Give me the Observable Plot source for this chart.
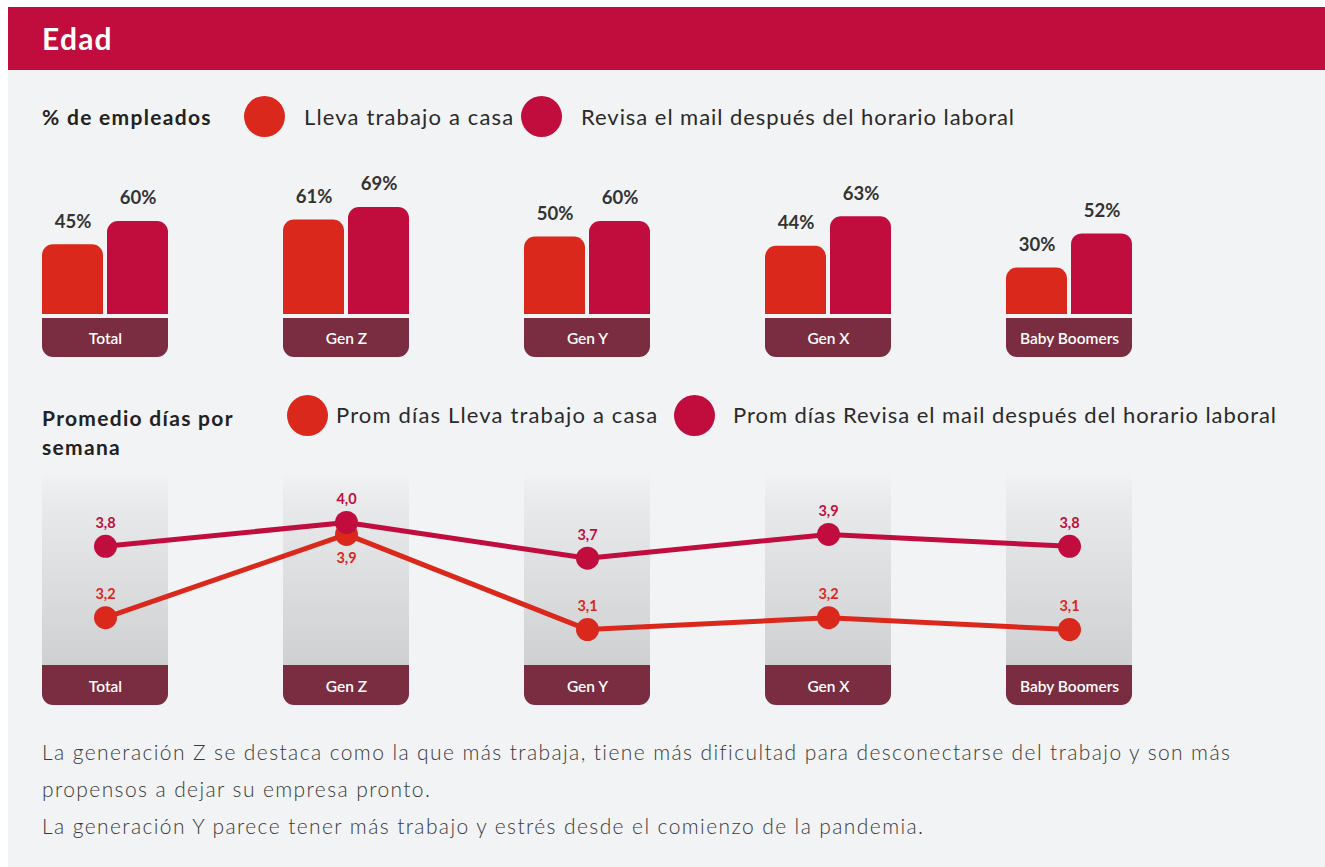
<!DOCTYPE html>
<html>
<head>
<meta charset="utf-8">
<script src="https://cdn.jsdelivr.net/npm/d3@7"></script>
<script src="https://cdn.jsdelivr.net/npm/@observablehq/plot@0.6"></script>
<style>
  html, body { margin: 0; padding: 0; background: #ffffff; }
  body { width: 1325px; height: 867px; position: relative; overflow: hidden; font-family: Lato, "Open Sans", sans-serif; }
  #panel { position: absolute; left: 8px; top: 7px; width: 1317px; height: 860px; background: #f2f3f5; }
  #header { position: absolute; left: 8px; top: 7px; width: 1317px; height: 63px; background: #c00d3d; }
  #header span { position: absolute; left: 34px; top: 13px; font-size: 30px; font-weight: 700; color: #fff; letter-spacing: 1.2px; }
  .abs { position: absolute; }
  .lg-title { font-size: 21px; font-weight: 700; color: #222; letter-spacing: 1.3px; }
  .lg-text { font-size: 22px; font-weight: 400; color: #2a2a2a; white-space: nowrap; }
  .circ { position: absolute; width: 41px; height: 41px; border-radius: 50%; }
  #foot { position: absolute; left: 42px; top: 733px; font-size: 21px; font-weight: 300; color: #3a3a3a; line-height: 37px; white-space: nowrap; letter-spacing: 1.4px; }
  .chart { position: absolute; left: 0; }
  .chart svg { overflow: visible; background: transparent; }
</style>
</head>
<body>
<div id="panel"></div>
<div id="header"><span>Edad</span></div>

<div class="abs lg-title" style="left:42px; top:104px;">% de empleados</div>
<div class="circ" style="left:244px; top:96px; background:#da291c;"></div>
<div class="abs lg-text" style="left:304px; top:103px; letter-spacing:1.15px;">Lleva trabajo a casa</div>
<div class="circ" style="left:521px; top:96px; background:#c00d3e;"></div>
<div class="abs lg-text" style="left:581px; top:103px; letter-spacing:0.95px;">Revisa el mail después del horario laboral</div>

<div class="abs lg-title" style="left:42px; top:403px; line-height:29px;">Promedio días por<br>semana</div>
<div class="circ" style="left:287px; top:395px; background:#da291c;"></div>
<div class="abs lg-text" style="left:336px; top:401px; letter-spacing:1.15px;">Prom días Lleva trabajo a casa</div>
<div class="circ" style="left:674px; top:395px; background:#c00d3e;"></div>
<div class="abs lg-text" style="left:733px; top:401px; letter-spacing:0.95px;">Prom días Revisa el mail después del horario laboral</div>

<div id="top" class="chart" style="top:160px;"></div>
<div id="bottom" class="chart" style="top:460px;"></div>

<div id="foot">La generación Z se destaca como la que más trabaja, tiene más dificultad para desconectarse del trabajo y son más<br>propensos a dejar su empresa pronto.<br>La generación Y parece tener más trabajo y estrés desde el comienzo de la pandemia.</div>

<script>
const cats = ["Total", "Gen Z", "Gen Y", "Gen X", "Baby Boomers"];
const llevaPct = [45, 61, 50, 44, 30];
const revisaPct = [60, 69, 60, 63, 52];
const llevaDias = [3.2, 3.9, 3.1, 3.2, 3.1];
const revisaDias = [3.8, 4.0, 3.7, 3.9, 3.8];

const RED = "#da291c", CRIMSON = "#c00d3e", MAROON = "#7a2c40", BG = "#f2f3f5";
const fmt = v => v.toFixed(1).replace(".", ",");

const xScale = { type: "band", domain: cats, range: [42, 1132], paddingInner: 115 / 241, paddingOuter: 0, axis: null };

const lleva = cats.map((c, i) => ({ cat: c, v: llevaPct[i] }));
const revisa = cats.map((c, i) => ({ cat: c, v: revisaPct[i] }));

const catLabelStyle = { fill: "#fff", fontSize: 15.5, fontWeight: 600, style: "letter-spacing:0.9px" };

const topChart = Plot.plot({
  width: 1325, height: 210, margin: 0,
  x: xScale,
  y: { domain: [0, 100], range: [154, -1], axis: null },
  style: { background: "transparent", fontFamily: "Lato, sans-serif" },
  marks: [
    Plot.barY(lleva, { x: "cat", y: "v", fill: RED, rx: 11, insetRight: 65, insetBottom: -20 }),
    Plot.barY(revisa, { x: "cat", y: "v", fill: CRIMSON, rx: 11, insetLeft: 65, insetBottom: -20 }),
    Plot.cell(cats, { x: d => d, fill: BG, insetTop: 154, insetBottom: 20 }),
    Plot.cell(cats, { x: d => d, fill: MAROON, rx: 11, insetTop: 158, insetBottom: 13 }),
    Plot.cell(cats, { x: d => d, fill: MAROON, insetTop: 158, insetBottom: 35 }),
    Plot.text(cats, { x: d => d, text: d => d, frameAnchor: "top", dy: 172, ...catLabelStyle }),
    Plot.text(lleva, { x: "cat", y: "v", text: d => d.v + "%", dx: -32.5, dy: -23, fontSize: 18.5, fontWeight: 700, fill: "#333", style: "letter-spacing:1px" }),
    Plot.text(revisa, { x: "cat", y: "v", text: d => d.v + "%", dx: 32.5, dy: -23, fontSize: 18.5, fontWeight: 700, fill: "#333", style: "letter-spacing:1px" })
  ]
});
document.getElementById("top").appendChild(topChart);

const llevaD = cats.map((c, i) => ({ cat: c, v: llevaDias[i], below: revisaDias[i] - llevaDias[i] < 0.2 }));
const revisaD = cats.map((c, i) => ({ cat: c, v: revisaDias[i] }));

const defsMark = () => {
  const ns = "http://www.w3.org/2000/svg";
  const defs = document.createElementNS(ns, "defs");
  const g = document.createElementNS(ns, "linearGradient");
  g.setAttribute("id", "colgrad");
  g.setAttribute("x1", "0"); g.setAttribute("y1", "0"); g.setAttribute("x2", "0"); g.setAttribute("y2", "1");
  [["0", "#f2f3f5"], ["0.15", "#e9eaec"], ["1", "#cfd0d2"]].forEach(([o, c]) => {
    const s = document.createElementNS(ns, "stop");
    s.setAttribute("offset", o); s.setAttribute("stop-color", c);
    g.appendChild(s);
  });
  defs.appendChild(g);
  return defs;
};

const bottomChart = Plot.plot({
  width: 1325, height: 260, margin: 0,
  x: xScale,
  y: { domain: [3, 4], range: [181, 62], axis: null },
  style: { background: "transparent", fontFamily: "Lato, sans-serif" },
  marks: [
    defsMark,
    Plot.cell(cats, { x: d => d, fill: "url(#colgrad)", insetTop: 12, insetBottom: 55 }),
    Plot.cell(cats, { x: d => d, fill: MAROON, rx: 11, insetTop: 205, insetBottom: 15 }),
    Plot.cell(cats, { x: d => d, fill: MAROON, insetTop: 205, insetBottom: 35 }),
    Plot.text(cats, { x: d => d, text: d => d, frameAnchor: "top", dy: 220, ...catLabelStyle }),
    Plot.line(llevaD, { x: "cat", y: "v", stroke: RED, strokeWidth: 5 }),
    Plot.dot(llevaD, { x: "cat", y: "v", r: 11.5, fill: RED }),
    Plot.line(revisaD, { x: "cat", y: "v", stroke: CRIMSON, strokeWidth: 5 }),
    Plot.dot(revisaD, { x: "cat", y: "v", r: 11.5, fill: CRIMSON }),
    Plot.text(llevaD, { x: "cat", y: "v", text: d => fmt(d.v), fontSize: 14.5, fontWeight: 700, fill: RED,
      filter: d => !d.below, dy: -23, style: "letter-spacing:0.5px" }),
    Plot.text(llevaD, { x: "cat", y: "v", text: d => fmt(d.v), fontSize: 14.5, fontWeight: 700, fill: RED,
      filter: d => d.below, dy: 24, style: "letter-spacing:0.5px" }),
    Plot.text(revisaD, { x: "cat", y: "v", text: d => fmt(d.v), dy: -23, fontSize: 14.5, fontWeight: 700, fill: CRIMSON, style: "letter-spacing:0.5px" })
  ]
});
document.getElementById("bottom").appendChild(bottomChart);
</script>
</body>
</html>
